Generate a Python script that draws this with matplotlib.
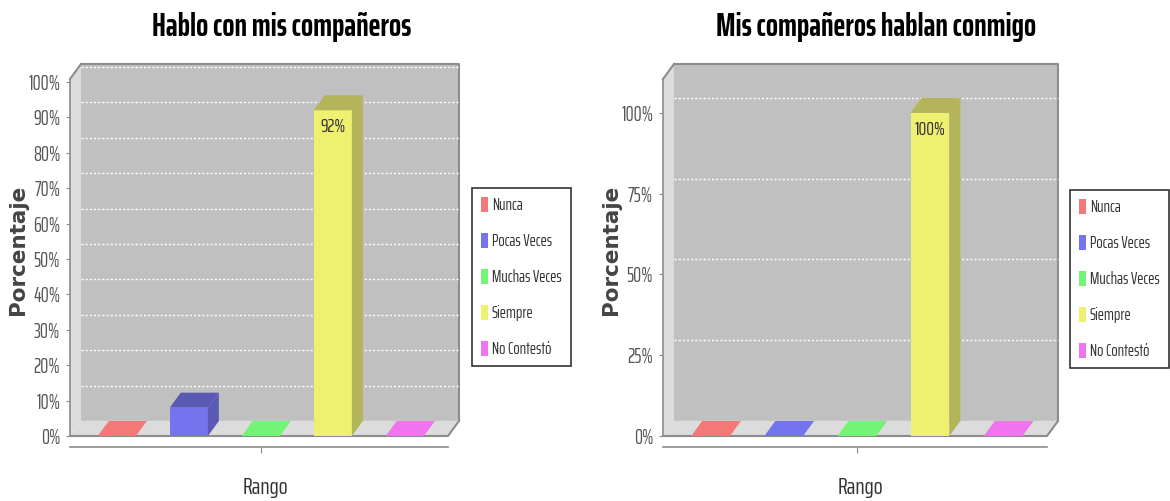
import matplotlib
matplotlib.use("Agg")
import matplotlib.pyplot as plt
from matplotlib.patches import Polygon, Rectangle

# ---------------- data ----------------
categories = ['Nunca', 'Pocas Veces', 'Muchas Veces', 'Siempre', 'No Contestó']
left_title = 'Hablo con mis compañeros'
left_values = [0, 8, 0, 92, 0]
left_labels = ['', '', '', '92%', '']
left_ticks = [0, 10, 20, 30, 40, 50, 60, 70, 80, 90, 100]

right_title = 'Mis compañeros hablan conmigo'
right_values = [0, 0, 0, 100, 0]
right_labels = ['', '', '', '100%', '']
right_ticks = [0, 25, 50, 75, 100]

x_label = 'Rango'
y_label = 'Porcentaje'

# ---------------- style ----------------
W, H = 1170, 501
face_colors = ['#F47878', '#7474EE', '#74F474', '#F0F070', '#F074F0']
dark_colors = ['#B45A5A', '#5A5AB4', '#5AB45A', '#B4B45A', '#B45AB4']
NARROW = ['Saira ExtraCondensed', 'Roboto Condensed', 'DejaVu Sans']
DEPTH_X, DEPTH_Y = 11, 15  # pixels

fig = plt.figure(figsize=(W / 100, H / 100), dpi=100)
fig.patch.set_facecolor('white')


def add_ax(l, r, top, bottom):
    return fig.add_axes([l / W, (H - bottom) / H, (r - l) / W, (bottom - top) / H])


def draw_panel(ax, values, labels, ticks, ymax, title, title_x, xlabel_x, ylabel_x,
               legend_xy, lpx, wpx, hpx):
    xmin, xmax = -0.65, 4.6
    ax.set_xlim(xmin, xmax)
    ax.set_ylim(0, ymax)
    dxd = DEPTH_X * (xmax - xmin) / wpx
    dyd = DEPTH_Y * ymax / hpx
    ax.set_facecolor('none')
    edge = '#8C8C8C'

    # back wall
    ax.add_patch(Rectangle((xmin + dxd, dyd), xmax - xmin, ymax, facecolor='#C0C0C0',
                           edgecolor='none', clip_on=False, zorder=0))
    ax.plot([xmin + dxd, xmax + dxd, xmax + dxd], [ymax + dyd, ymax + dyd, dyd],
            color=edge, lw=1.5, clip_on=False, zorder=1)
    # gridlines on back wall
    for t in ticks:
        ax.plot([xmin + dxd, xmax + dxd], [t + dyd, t + dyd], color='white', lw=1,
                ls=(0, (1.5, 1.5)), clip_on=False, zorder=1)
    # side wall
    ax.add_patch(Polygon([(xmin, 0), (xmin + dxd, dyd), (xmin + dxd, ymax + dyd), (xmin, ymax)],
                         closed=True, facecolor='#DCDCDC', edgecolor='none', clip_on=False, zorder=2))
    ax.plot([xmin, xmin + dxd], [ymax, ymax + dyd], color=edge, lw=1.5, clip_on=False, zorder=2)
    # floor
    ax.add_patch(Polygon([(xmin, 0), (xmax, 0), (xmax + dxd, dyd), (xmin + dxd, dyd)],
                         closed=True, facecolor='#DCDCDC', edgecolor='none', clip_on=False, zorder=2))
    ax.plot([xmin, xmax, xmax + dxd], [0, 0, dyd], color=edge, lw=1.5, clip_on=False, zorder=3)

    # bars
    bw = 0.53
    for i, v in enumerate(values):
        x0, x1 = i - bw / 2, i + bw / 2
        top_col = dark_colors[i] if v > 0 else face_colors[i]
        if v > 0:
            ax.add_patch(Rectangle((x0, 0), bw, v, facecolor=face_colors[i], edgecolor='none',
                                   clip_on=False, zorder=4))
            ax.add_patch(Polygon([(x1, 0), (x1 + dxd, dyd), (x1 + dxd, v + dyd), (x1, v)],
                                 closed=True, facecolor=dark_colors[i], edgecolor='none',
                                 clip_on=False, zorder=4))
        ax.add_patch(Polygon([(x0, v), (x1, v), (x1 + dxd, v + dyd), (x0 + dxd, v + dyd)],
                             closed=True, facecolor=top_col, edgecolor='none',
                             clip_on=False, zorder=4))
        if labels[i]:
            ax.annotate(labels[i], (i, v), xytext=(0, -8), textcoords='offset pixels',
                        ha='center', va='top', fontsize=14, color='#333333',
                        family=NARROW, zorder=5)

    # axes
    for s in ['top', 'right']:
        ax.spines[s].set_visible(False)
    ax.spines['left'].set_color(edge)
    ax.spines['left'].set_linewidth(1.2)
    ax.spines['bottom'].set_position(('outward', 8))
    ax.spines['bottom'].set_color(edge)
    ax.spines['bottom'].set_linewidth(1.2)
    ax.set_yticks(ticks)
    ax.set_yticklabels([f'{t}%' for t in ticks], family=NARROW, fontsize=14.5, color='#555555')
    ax.set_xticks([2])
    ax.set_xticklabels([''])
    ax.tick_params(axis='y', direction='out', length=3, color=edge, pad=4)
    ax.tick_params(axis='x', direction='out', length=4, color=edge)
    ax.set_ylabel(y_label, fontsize=15.5, fontweight='bold', color='#444444',
                  family=['DejaVu Sans'])
    ax.yaxis.set_label_coords((ylabel_x - lpx) / wpx, (436 - 250) / hpx)

    fig.text(xlabel_x / W, 1 - 487 / H, x_label, ha='center', va='center', family=NARROW,
             fontsize=17, color='#333333')
    fig.text(title_x / W, 1 - 27 / H, title, ha='center', va='center', family=NARROW,
             fontsize=23, fontweight='bold', color='black')

    handles = [Rectangle((0, 0), 1, 1, facecolor=c, edgecolor='none') for c in face_colors]
    leg = ax.legend(handles, categories, loc='upper left',
                    bbox_to_anchor=(legend_xy[0] / W, 1 - legend_xy[1] / H),
                    bbox_transform=fig.transFigure, frameon=True, fancybox=False,
                    prop={'family': NARROW, 'size': 12}, handlelength=0.4,
                    handleheight=0.95, handletextpad=0.25, labelspacing=1.2,
                    borderpad=0.55, borderaxespad=0)
    leg.get_frame().set_edgecolor('black')
    leg.get_frame().set_linewidth(1.2)
    for t in leg.get_texts():
        t.set_color('#333333')


ax1 = add_ax(70, 448, 79, 436)
draw_panel(ax1, left_values, left_labels, left_ticks, 100.85, left_title, 282, 265, 28,
           (472, 188), 70, 378, 357)
ax2 = add_ax(663, 1047, 79, 436)
draw_panel(ax2, right_values, right_labels, right_ticks, 110.5, right_title, 876, 860, 621,
           (1070, 190), 663, 384, 357)

fig.savefig('out.png', dpi=100, facecolor='white')
